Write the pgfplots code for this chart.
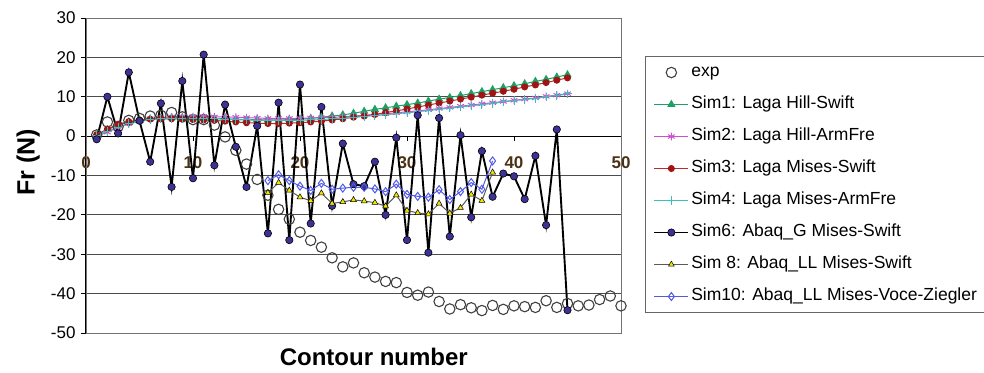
\documentclass[border=0pt]{standalone}
\usepackage{pgfplots}
\pgfplotsset{compat=1.18}
\usepackage{pgfplotstable}
\usepackage{fontspec}
\setmainfont{Liberation Sans}
\definecolor{simgreen}{RGB}{30,160,100}
\definecolor{simmag}{RGB}{204,80,204}
\definecolor{simred}{RGB}{190,40,40}
\definecolor{simredm}{RGB}{160,20,20}
\definecolor{simcyan}{RGB}{60,190,190}
\definecolor{simnavy}{RGB}{60,50,150}
\definecolor{simblue}{RGB}{80,90,230}
\definecolor{simgray}{RGB}{90,90,90}
\definecolor{simyellow}{RGB}{240,230,0}
\definecolor{xlabcol}{RGB}{75,50,20}

\pgfplotstableread{
x y
1 0.3
2 3.6
3 2.4
4 4.0
5 4.5
6 5.1
7 5.3
8 6.0
9 4.9
10 4.2
11 4.2
12 2.8
13 -0.2
14 -3.6
15 -7.1
16 -11.0
17 -15.0
18 -18.6
19 -21.1
20 -24.4
21 -26.5
22 -28.2
23 -30.9
24 -33.2
25 -32.2
26 -34.7
27 -35.8
28 -36.9
29 -37.2
30 -39.7
31 -40.4
32 -39.6
33 -42.0
34 -43.9
35 -42.8
36 -43.6
37 -44.3
38 -43.0
39 -44.0
40 -43.1
41 -43.3
42 -43.5
43 -41.8
44 -43.5
45 -42.5
46 -43.1
47 -42.9
48 -41.5
49 -40.6
50 -43.1
}\expdata

\pgfplotstableread{
x s1 s2 s3 s4
1 0.3 0.0 0.4 0.2
2 1.6 1.0 1.8 1.2
3 2.8 2.2 3.0 2.3
4 3.6 3.2 3.7 3.2
5 4.1 3.9 4.1 3.8
6 4.4 4.4 4.3 4.2
7 4.6 4.7 4.4 4.4
8 4.7 4.9 4.4 4.5
9 4.7 5.0 4.3 4.5
10 4.6 5.0 4.2 4.5
11 4.6 5.0 4.1 4.4
12 4.5 4.9 4.0 4.4
13 4.4 4.9 3.8 4.3
14 4.3 4.8 3.6 4.2
15 4.2 4.7 3.4 4.1
16 4.2 4.6 3.3 4.0
17 4.1 4.5 3.2 4.0
18 4.1 4.5 3.2 4.0
19 4.2 4.5 3.3 4.0
20 4.3 4.5 3.4 4.0
21 4.5 4.6 3.6 4.1
22 4.8 4.7 3.8 4.2
23 5.1 4.8 4.1 4.4
24 5.4 4.9 4.4 4.6
25 5.8 5.1 4.8 4.8
26 6.3 5.3 5.1 5.0
27 6.8 5.5 5.5 5.2
28 7.2 5.7 6.0 5.4
29 7.6 5.9 6.4 5.7
30 8.0 6.2 6.9 5.9
31 8.4 6.4 7.4 6.2
32 8.9 6.7 7.9 6.5
33 9.4 7.0 8.4 6.8
34 9.8 7.3 8.9 7.1
35 10.3 7.6 9.4 7.4
36 10.8 7.9 9.9 7.7
37 11.3 8.2 10.4 8.0
38 11.8 8.5 10.9 8.3
39 12.3 8.8 11.4 8.7
40 12.8 9.1 11.9 9.0
41 13.3 9.4 12.5 9.3
42 13.9 9.7 13.0 9.6
43 14.4 10.1 13.6 10.0
44 15.0 10.4 14.2 10.3
45 15.6 10.8 14.8 10.7
}\lagadata

\pgfplotstableread{
x y
1 -0.8
2 10.0
3 0.7
4 16.2
5 3.9
6 -6.5
7 8.3
8 -12.9
9 14.0
10 -10.7
11 20.7
12 -7.4
13 8.0
14 -2.7
15 -12.9
16 2.6
17 -24.7
18 8.5
19 -26.4
20 13.1
21 -22.2
22 7.4
23 -17.7
24 -1.9
25 -12.2
26 -12.7
27 -6.5
28 -20.0
29 -0.4
30 -26.4
31 5.3
32 -29.6
33 4.6
34 -25.5
35 0.25
36 -20.6
37 -3.8
38 -15.4
39 -9.5
40 -10.2
41 -16.0
42 -5.0
43 -22.6
44 1.7
45 -44.2
}\simsix

\pgfplotstableread{
x s8 s10
17 -14.4 -11.3
18 -11.8 -9.8
19 -13.8 -11.3
20 -15.5 -12.7
21 -16.4 -13.8
22 -14.5 -12.0
23 -17.1 -13.5
24 -16.7 -13.2
25 -16.2 -13.0
26 -16.5 -13.0
27 -16.9 -13.4
28 -17.8 -14.1
29 -15.0 -12.2
30 -18.9 -14.8
31 -19.5 -15.3
32 -19.8 -15.5
33 -17.1 -13.6
34 -19.6 -16.1
35 -18.2 -14.1
36 -14.8 -11.8
37 -16.4 -13.5
38 -9.2 -6.3
}\abaqll

\begin{document}
\begin{tikzpicture}
\useasboundingbox (-86bp,-40bp) rectangle (898bp,333bp);
\begin{axis}[
  scale only axis, width=535bp, height=315bp,
  xmin=0, xmax=50, ymin=-50, ymax=30,
  axis x line*=middle, axis y line*=left,
  axis line style={-, black, line width=1.2pt},
  xtick={0,10,...,50}, ytick={-50,-40,...,30},
  hide obscured x ticks=false,
  tick align=outside, major tick length=5bp,
  tick style={black, line width=0.8pt},
  ymajorgrids, grid style={draw=black!70, line width=0.9pt},
  /pgf/number format/assume math mode=true,
  yticklabel style={font=\fontsize{17bp}{20bp}\selectfont, xshift=-2bp},
  xticklabel style={font=\fontsize{17bp}{20bp}\selectfont\bfseries, text=xlabcol, yshift=-12bp},
  every axis x label/.style={at={(axis description cs:0.538,-0.076)}, anchor=center},
  every axis y label/.style={at={(axis description cs:-0.108,0.541)}, anchor=center, rotate=90},
  xlabel={\fontsize{24bp}{28bp}\selectfont\bfseries Contour number},
  ylabel={\fontsize{25bp}{28bp}\selectfont\bfseries Fr (N)},
  legend style={at={(axis description cs:1.0449,0.879)}, anchor=north west,
    draw=black!60, line width=0.8pt, inner xsep=8bp, inner ysep=6bp,
    row sep=12bp,
    nodes={inner sep=2bp, text height=12bp, text depth=4bp},
    font=\fontsize{17.5bp}{20bp}\selectfont},
  legend cell align=left,
  legend image code/.code={\draw[mark repeat=2,mark phase=2,#1] plot coordinates {(0bp,0bp) (17bp,0bp) (34bp,0bp)};},
  clip=false,
]
\draw[black!55, line width=1pt] (rel axis cs:0,0) rectangle (rel axis cs:1,1);
\addplot[only marks, mark=o, mark size=5.2bp, mark options={draw=black!75, line width=1.1pt}] table[x=x,y=y] {\expdata};
\addlegendentry{exp}
\addplot[simgreen, line width=1pt, mark=triangle*, mark size=3.8bp] table[x=x,y=s1] {\lagadata};
\addlegendentry{Sim1: Laga Hill-Swift}
\addplot[simmag, line width=1pt, mark=asterisk, mark size=3.8bp] table[x=x,y=s2] {\lagadata};
\addlegendentry{Sim2: Laga Hill-ArmFre}
\addplot[simred, line width=1pt, mark=*, mark size=3bp, mark options={fill=simredm, draw=simredm}] table[x=x,y=s3] {\lagadata};
\addlegendentry{Sim3: Laga Mises-Swift}
\addplot[simcyan, line width=1pt, mark=+, mark size=4.2bp] table[x=x,y=s4] {\lagadata};
\addlegendentry{Sim4: Laga Mises-ArmFre}
\addplot[black, line width=1.9pt, mark=*, mark size=3.7bp, mark options={fill=simnavy, draw=black, line width=0.6pt}] table[x=x,y=y] {\simsix};
\addlegendentry{Sim6: Abaq\_G Mises-Swift}
\addplot[simgray, line width=1pt, mark=triangle*, mark size=3.4bp, mark options={fill=simyellow, draw=black, line width=0.5pt}] table[x=x,y=s8] {\abaqll};
\addlegendentry{Sim 8: Abaq\_LL Mises-Swift}
\addplot[simblue, line width=1pt, mark=diamond, mark size=4bp, mark options={draw=simblue, fill=white, line width=1pt}] table[x=x,y=s10] {\abaqll};
\addlegendentry{Sim10: Abaq\_LL Mises-Voce-Ziegler}
\end{axis}
\end{tikzpicture}
\end{document}
